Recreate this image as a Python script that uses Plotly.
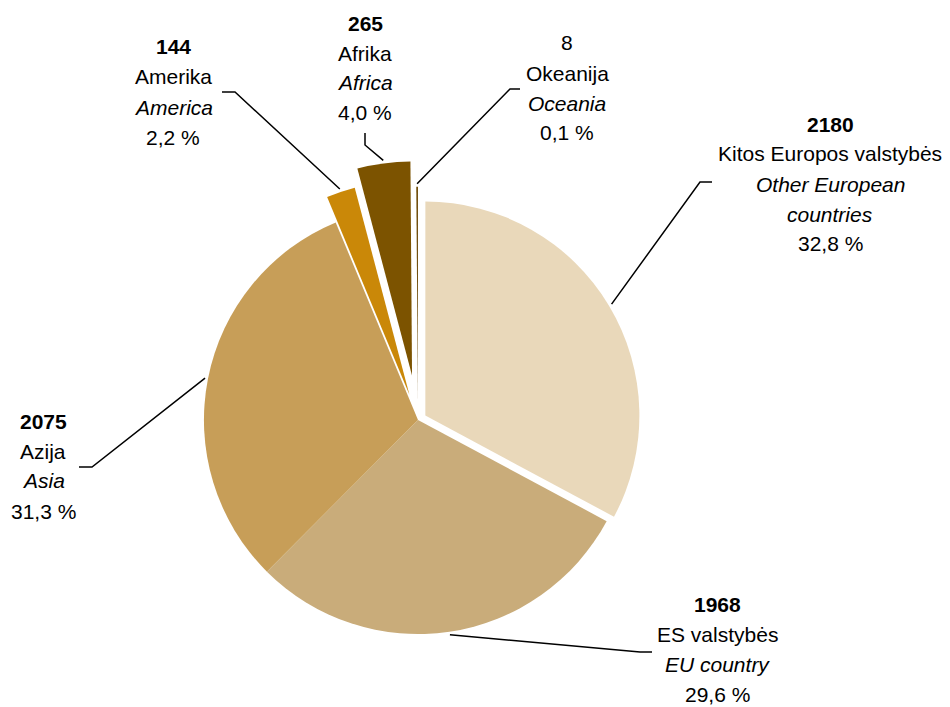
import math
import plotly.graph_objects as go

W, H = 950, 707

regions_lt = ["Kitos Europos valstybės", "ES valstybės", "Azija", "Amerika", "Afrika", "Okeanija"]
regions_en = [["Other European", "countries"], ["EU country"], ["Asia"], ["America"], ["Africa"], ["Oceania"]]
counts = [2180, 1968, 2075, 144, 265, 8]
pct_labels = ["32,8 %", "29,6 %", "31,3 %", "2,2 %", "4,0 %", "0,1 %"]
bold_count = [True, True, True, True, True, False]

colors = ["#E9D8BA", "#C9AC7A", "#C79E58", "#CA8808", "#7C5300", "#6A4600"]
pulls = [0.04, 0, 0, 0.125, 0.21, 0.09]

# label layout in pixels: centre of the first text line, leader elbow, leader end
label_pos = [(830, 124), (717, 604), (43, 421), (173, 47), (365, 23), (567, 43)]
leader_elbow = [(700, 182), (640, 652), (92, 467), (235, 92), (365, 145), (510, 89)]
leader_end = [(712, 182), (652, 652), (79, 467), (222, 92), (365, 133), (520, 89)]
line_step = 30
font = "Liberation Sans, Arial, sans-serif"

# pie domain (pixels) -> paper
cx, cy, half = 418, 420, 259
dom_x = [(cx - half) / W, (cx + half) / W]
dom_y = [1 - (cy + half) / H, 1 - (cy - half) / H]

fig = go.Figure(go.Pie(
    values=counts,
    labels=regions_lt,
    sort=False,
    direction="clockwise",
    rotation=0,
    pull=pulls,
    textinfo="none",
    hoverinfo="label+value+percent",
    marker=dict(colors=colors, line=dict(width=0)),
    domain=dict(x=dom_x, y=dom_y),
    showlegend=False,
))

def px2paper(x, y):
    return x / W, 1 - y / H

# leader lines from slice edge to labels
r = half / (1 + max(pulls))
total = sum(counts)
cum = 0
shapes = []
for i, v in enumerate(counts):
    mid = (cum + v / 2) / total * 2 * math.pi
    cum += v
    d = r * (1 + pulls[i]) + 3
    tx, ty = cx + d * math.sin(mid), cy - d * math.cos(mid)
    p0 = px2paper(tx, ty)
    p1 = px2paper(*leader_elbow[i])
    p2 = px2paper(*leader_end[i])
    shapes.append(dict(
        type="path", xref="paper", yref="paper",
        path=f"M {p0[0]},{p0[1]} L {p1[0]},{p1[1]} L {p2[0]},{p2[1]}",
        line=dict(color="black", width=1.5),
    ))

annotations = []
for i, v in enumerate(counts):
    lines = [f"<b>{v}</b>" if bold_count[i] else str(v), regions_lt[i]]
    lines += [f"<i>{t}</i>" for t in regions_en[i]]
    lines.append(pct_labels[i])
    x0, y0 = label_pos[i]
    for k, t in enumerate(lines):
        x, y = px2paper(x0, y0 + k * line_step)
        annotations.append(dict(
            text=t, x=x, y=y, xref="paper", yref="paper",
            xanchor="center", yanchor="middle", showarrow=False,
            borderpad=0,
            font=dict(family=font, size=21, color="black"),
        ))

fig.update_layout(
    width=W, height=H,
    margin=dict(l=0, r=0, t=0, b=0),
    paper_bgcolor="white",
    plot_bgcolor="white",
    shapes=shapes,
    annotations=annotations,
)

fig.write_html("out.html", config={"displayModeBar": False},
               post_script="document.body.style.margin = '0';")
